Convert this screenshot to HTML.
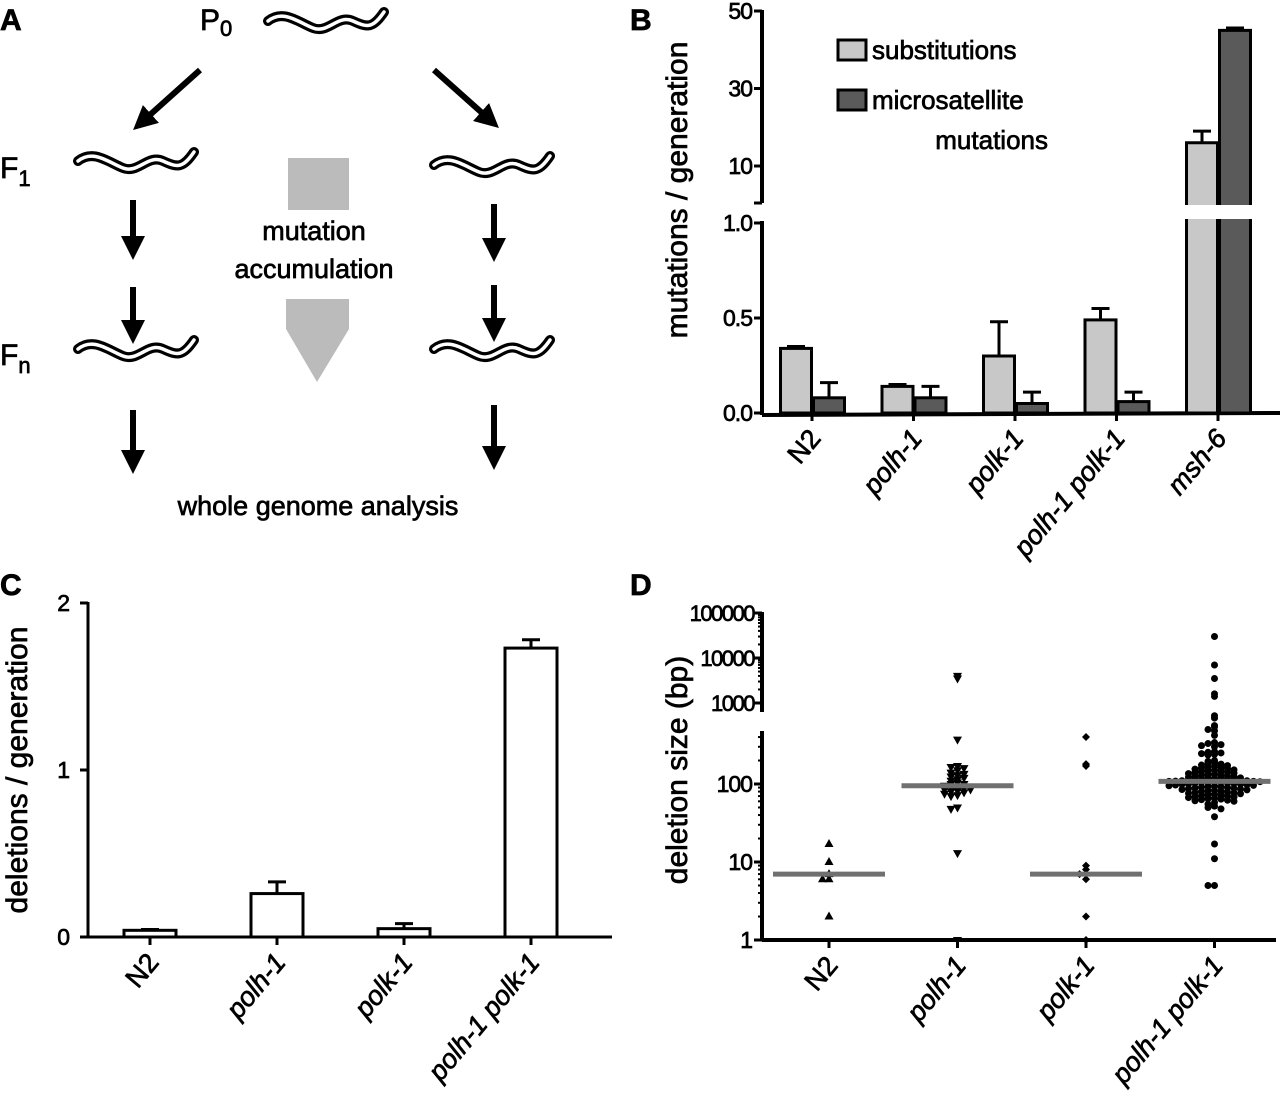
<!DOCTYPE html>
<html><head><meta charset="utf-8"><style>
body{margin:0;background:#fff}
svg{display:block}
text{font-family:"Liberation Sans",sans-serif;fill:#000;stroke:#000;stroke-width:0.7}
</style></head><body>
<svg id="fig" width="1280" height="1111" viewBox="0 0 1280 1111" xmlns="http://www.w3.org/2000/svg">
<defs>
<marker id="ah" markerWidth="4" markerHeight="4" refX="2" refY="2" orient="auto" markerUnits="strokeWidth"><path d="M0,0 L4,2 L0,4 z" fill="#000"/></marker>
</defs>
<g id="panelA">
<text x="0" y="30" font-size="30" font-weight="bold">A</text>
<text x="200" y="30" font-size="30">P<tspan font-size="22" dy="6">0</tspan></text>
<text x="0" y="178" font-size="30">F<tspan font-size="22" dy="8">1</tspan></text>
<text x="0" y="365" font-size="30">F<tspan font-size="22" dy="8">n</tspan></text>
<g id="worms"></g>
<g stroke="#000" stroke-width="6" fill="none">
<line x1="200" y1="70" x2="142" y2="122" marker-end="url(#ah)"/>
<line x1="434" y1="70" x2="490" y2="120" marker-end="url(#ah)"/>
<line x1="133" y1="200" x2="133" y2="248" marker-end="url(#ah)"/>
<line x1="133" y1="287" x2="133" y2="332" marker-end="url(#ah)"/>
<line x1="133" y1="410" x2="133" y2="462" marker-end="url(#ah)"/>
<line x1="494" y1="204" x2="494" y2="250" marker-end="url(#ah)"/>
<line x1="494" y1="285" x2="494" y2="330" marker-end="url(#ah)"/>
<line x1="494" y1="405" x2="494" y2="458" marker-end="url(#ah)"/>
</g>
<rect x="288" y="158" width="61" height="52" fill="#bbb"/>
<polygon points="286,317 349,317 349,347 317,400 286,347" fill="#bbb" transform="translate(0,-18)"/>
<text x="314" y="240" font-size="27" text-anchor="middle">mutation</text>
<text x="314" y="278" font-size="27" text-anchor="middle">accumulation</text>
<text x="318" y="515" font-size="27" text-anchor="middle">whole genome analysis</text>
</g>
<text x="630" y="30" font-size="30" font-weight="bold">B</text>
<text x="0" y="595" font-size="30" font-weight="bold">C</text>
<text x="630" y="595" font-size="30" font-weight="bold">D</text>
<g id="panelB"></g>
<g id="panelC"></g>
<g id="panelD"></g>
</svg>
<script>
const bCategories = ["N2","polh-1","polk-1","polh-1 polk-1","msh-6"];
const bSubst = [0.34,0.14,0.30,0.49,16];
const bSubstErr = [0.01,0.01,0.18,0.06,3];
const bMicro = [0.08,0.08,0.05,0.06,45];
const bMicroErr = [0.08,0.06,0.06,0.05,0.6];
const bLowTicks = ["0.0","0.5","1.0"];
const bHighTicks = ["10","30","50"];
const cCategories = ["N2","polh-1","polk-1","polh-1 polk-1"];
const cValues = [0.04,0.26,0.05,1.73];
const cErr = [0.005,0.07,0.03,0.05];
const cTicks = ["0","1","2"];
const dCategories = ["N2","polh-1","polk-1","polh-1 polk-1"];
const dMedians = [7,95,7,108];
const dN2 = [17,10,7,6,6,2];
const dPolh = [4000,3500,370,170,165,160,150,140,135,130,125,120,115,110,105,100,100,95,92,90,88,85,85,82,80,78,75,72,70,50,48,13,1];
const dPolk = [400,170,180,9,8,7,7,6,2,1];
const dDouble = [30000,7000,3500,1600,1400,750,700,560,540,500,480,420,340,330,320,310,300,260,255,250,245,240,235,
 200,195,190,185,180,175,172,170,165,162,160,158,155,152,150,148,146,144,142,140,138,136,134,132,130,128,126,125,124,122,120,
 119,118,117,116,115,114,113,112,111,110,110,109,108,108,107,106,105,105,104,103,102,101,100,100,99,98,97,96,95,94,93,92,91,90,
 89,88,87,86,85,84,83,82,81,80,79,78,77,76,75,74,73,72,71,70,69,68,67,66,65,64,63,62,61,60,58,55,52,50,48,38,17,11,5,5];
const dTicksLow = ["1","10","100"];
const dTicksHigh = ["1000","10000","100000"];

const NS="http://www.w3.org/2000/svg";
function mk(tag,attrs,parent){const e=document.createElementNS(NS,tag);for(const k in attrs)e.setAttribute(k,attrs[k]);parent.appendChild(e);return e;}

(function(){
 const g=document.getElementById('worms');
 const pos=[[268,12],[78,152],[434,156],[78,340],[434,340]];
 pos.forEach((p,i)=>{
  const d=`M${p[0]},${p[1]+9} C${p[0]+15},${p[1]-3} ${p[0]+30},${p[1]+10} ${p[0]+45},${p[1]+16} S${p[0]+70},${p[1]+2} ${p[0]+85},${p[1]+9} S${p[0]+105},${p[1]+16} ${p[0]+116},${p[1]}`;
  const a=mk('path',{d:d,fill:'none',stroke:'#000','stroke-width':10,'stroke-linecap':'round'},g);
  
  
  mk('path',{d:d,fill:'none',stroke:'#fff','stroke-width':3.5,'stroke-linecap':'round'},g);
 });
})();

function xlabel(g,c,x,y0,name){
 const t=mk('text',{transform:`translate(${x+10},${y0+26}) rotate(-50)`,'font-size':27,'text-anchor':'end','font-style':c==='N2'?'normal':'italic'},g);t.textContent=c;
 
}

(function(){
 const g=document.getElementById('panelB');
 const ax=762, y0=413;
 const yLow=v=>y0-v*190;
 const yHigh=v=>166-(v-10)*3.875;
 const y=v=>v<=1?yLow(v):yHigh(v);
 const xc=i=>812+i*101.5;
 mk('line',{x1:ax,y1:y0+2,x2:1280,y2:y0,stroke:'#000','stroke-width':4},g);
 mk('line',{x1:ax,y1:y0+2,x2:ax,y2:221,stroke:'#000','stroke-width':4},g);
 mk('line',{x1:ax,y1:203,x2:ax,y2:10,stroke:'#000','stroke-width':4},g);
 bLowTicks.forEach(t=>{const yy=yLow(parseFloat(t));mk('line',{x1:ax-8,y1:yy,x2:ax,y2:yy,stroke:'#000','stroke-width':3},g);
  const tx=mk('text',{x:ax-10,y:yy+8,'font-size':23,'text-anchor':'end','letter-spacing':'-1'},g);tx.textContent=t;
  });
 bHighTicks.forEach(t=>{const yy=yHigh(parseFloat(t));mk('line',{x1:ax-8,y1:yy,x2:ax,y2:yy,stroke:'#000','stroke-width':3},g);
  const tx=mk('text',{x:ax-10,y:yy+8,'font-size':23,'text-anchor':'end','letter-spacing':'-1'},g);tx.textContent=t;
  });
 mk('line',{x1:ax-8,y1:203,x2:ax,y2:203,stroke:'#000','stroke-width':3},g);
 const tt=mk('text',{transform:'translate(687,190) rotate(-90)','font-size':30,'text-anchor':'middle'},g);tt.textContent='mutations / generation';
 
 bCategories.forEach((c,i)=>{
  const x=xc(i);
  [[bSubst[i],bSubstErr[i],x-33,'#c8c8c8','bar-substitutions'],[bMicro[i],bMicroErr[i],x,'#5a5a5a','bar-microsatellite']].forEach(s=>{
   const top=y(s[0]);
   const r=mk('rect',{x:s[2]+1.5,y:top,width:31,height:y0-top,fill:s[3],stroke:'#000','stroke-width':3},g);
   
   const et=y(s[0]+s[1]);
   mk('line',{x1:s[2]+17,y1:top,x2:s[2]+17,y2:et,stroke:'#000','stroke-width':3},g);
   mk('line',{x1:s[2]+8,y1:et,x2:s[2]+26,y2:et,stroke:'#000','stroke-width':3},g);
  });
  mk('line',{x1:x,y1:y0,x2:x,y2:y0+8,stroke:'#000','stroke-width':3},g);
  xlabel(g,c,x,y0,'b-x-tick-label');
 });
 mk('rect',{x:1180,y:205,width:80,height:14,fill:'#fff'},g);
 const l1=mk('rect',{x:838,y:40,width:28,height:20,fill:'#c8c8c8',stroke:'#000','stroke-width':3},g);
 
 const lt1=mk('text',{x:872,y:59,'font-size':26},g);lt1.textContent='substitutions';
 
 const l2=mk('rect',{x:838,y:90,width:28,height:20,fill:'#5a5a5a',stroke:'#000','stroke-width':3},g);
 
 const lt2=mk('text',{x:872,y:109,'font-size':26},g);lt2.textContent='microsatellite';
 
 const lt3=mk('text',{x:1048,y:149,'font-size':26,'text-anchor':'end'},g);lt3.textContent='mutations';
 
})();

(function(){
 const g=document.getElementById('panelC');
 const ax=88,y0=937;
 const y=v=>y0-v*167;
 const xc=i=>150+i*127;
 mk('line',{x1:ax,y1:y0,x2:612,y2:y0,stroke:'#000','stroke-width':3},g);
 mk('line',{x1:ax,y1:y0,x2:ax,y2:602,stroke:'#000','stroke-width':3},g);
 cTicks.forEach(t=>{const yy=y(parseFloat(t));mk('line',{x1:ax-8,y1:yy,x2:ax,y2:yy,stroke:'#000','stroke-width':3},g);
  const tx=mk('text',{x:ax-18,y:yy+8,'font-size':23,'text-anchor':'end'},g);tx.textContent=t;
  });
 const tt=mk('text',{transform:'translate(27,770) rotate(-90)','font-size':30,'text-anchor':'middle'},g);tt.textContent='deletions / generation';
 
 cCategories.forEach((c,i)=>{
  const x=xc(i),top=y(cValues[i]);
  const r=mk('rect',{x:x-26,y:top,width:52,height:y0-top,fill:'#fff',stroke:'#000','stroke-width':3},g);
  
  const et=y(cValues[i]+cErr[i]);
  mk('line',{x1:x,y1:top,x2:x,y2:et,stroke:'#000','stroke-width':3},g);
  mk('line',{x1:x-9,y1:et,x2:x+9,y2:et,stroke:'#000','stroke-width':3},g);
  mk('line',{x1:x,y1:y0,x2:x,y2:y0+8,stroke:'#000','stroke-width':3},g);
  xlabel(g,c,x,y0,'c-x-tick-label');
 });
})();

(function(){
 const g=document.getElementById('panelD');
 const ax=762,y0=940;
 const yLow=v=>y0-Math.log10(v)*78;
 const yHigh=v=>703-(Math.log10(v)-3)*45;
 const y=v=>v<1000?yLow(v):yHigh(v);
 const xc=i=>829+i*128.5;
 mk('line',{x1:ax,y1:y0,x2:1276,y2:y0,stroke:'#000','stroke-width':4},g);
 mk('line',{x1:ax,y1:y0,x2:ax,y2:731,stroke:'#000','stroke-width':4},g);
 mk('line',{x1:ax,y1:712,x2:ax,y2:612,stroke:'#000','stroke-width':4},g);
 for(let d=0;d<3;d++)for(let m=2;m<10;m++){const yy=yLow(m*Math.pow(10,d));if(yy>731)mk('line',{x1:ax-4,y1:yy,x2:ax,y2:yy,stroke:'#000','stroke-width':2},g);}
 for(let d=3;d<5;d++)for(let m=2;m<10;m++){const yy=yHigh(m*Math.pow(10,d));mk('line',{x1:ax-4,y1:yy,x2:ax,y2:yy,stroke:'#000','stroke-width':2},g);}
 dTicksLow.forEach(t=>{const yy=yLow(parseFloat(t));mk('line',{x1:ax-8,y1:yy,x2:ax,y2:yy,stroke:'#000','stroke-width':3},g);
  const tx=mk('text',{x:ax-10,y:yy+8,'font-size':23,'text-anchor':'end','letter-spacing':'-1'},g);tx.textContent=t;
  });
 dTicksHigh.forEach(t=>{const yy=yHigh(parseFloat(t));mk('line',{x1:ax-8,y1:yy,x2:ax,y2:yy,stroke:'#000','stroke-width':3},g);
  const tx=mk('text',{x:ax-8,y:yy+8,'font-size':22,'text-anchor':'end','letter-spacing':'-1.5'},g);tx.textContent=t;
  });
 const tt=mk('text',{transform:'translate(687,770) rotate(-90)','font-size':30,'text-anchor':'middle'},g);tt.textContent='deletion size (bp)';
 
 const groups=[dN2,dPolh,dPolk,dDouble];
 const shapes=['up','down','diamond','dot'];
 groups.forEach((vals,i)=>{
  const cx=xc(i);
  const bins={};
  vals.forEach(v=>{
   const yy=y(v);const b=Math.round(yy/4);
   bins[b]=(bins[b]||0)+1;const k=bins[b]-1;
   const off=(k%2===0?1:-1)*Math.ceil(k/2)*6.5;
   const px=cx+off;
   let p;
   if(shapes[i]==='up')p=mk('polygon',{points:`${px},${yy-5} ${px-4.5},${yy+3} ${px+4.5},${yy+3}`,fill:'#000'},g);
   else if(shapes[i]==='down')p=mk('polygon',{points:`${px},${yy+5} ${px-4.5},${yy-3} ${px+4.5},${yy-3}`,fill:'#000'},g);
   else if(shapes[i]==='diamond')p=mk('polygon',{points:`${px},${yy-4} ${px+4},${yy} ${px},${yy+4} ${px-4},${yy}`,fill:'#000'},g);
   else p=mk('circle',{cx:px,cy:yy,r:3.5,fill:'#000'},g);
   
   
  });
  const my=y(dMedians[i]);
  const ml=mk('line',{x1:cx-56,y1:my,x2:cx+56,y2:my,stroke:'#707070','stroke-width':5},g);
  
  mk('line',{x1:cx,y1:y0,x2:cx,y2:y0+8,stroke:'#000','stroke-width':3},g);
  xlabel(g,dCategories[i],cx,y0,'d-x-tick-label');
 });
})();
</script>
</body></html>
